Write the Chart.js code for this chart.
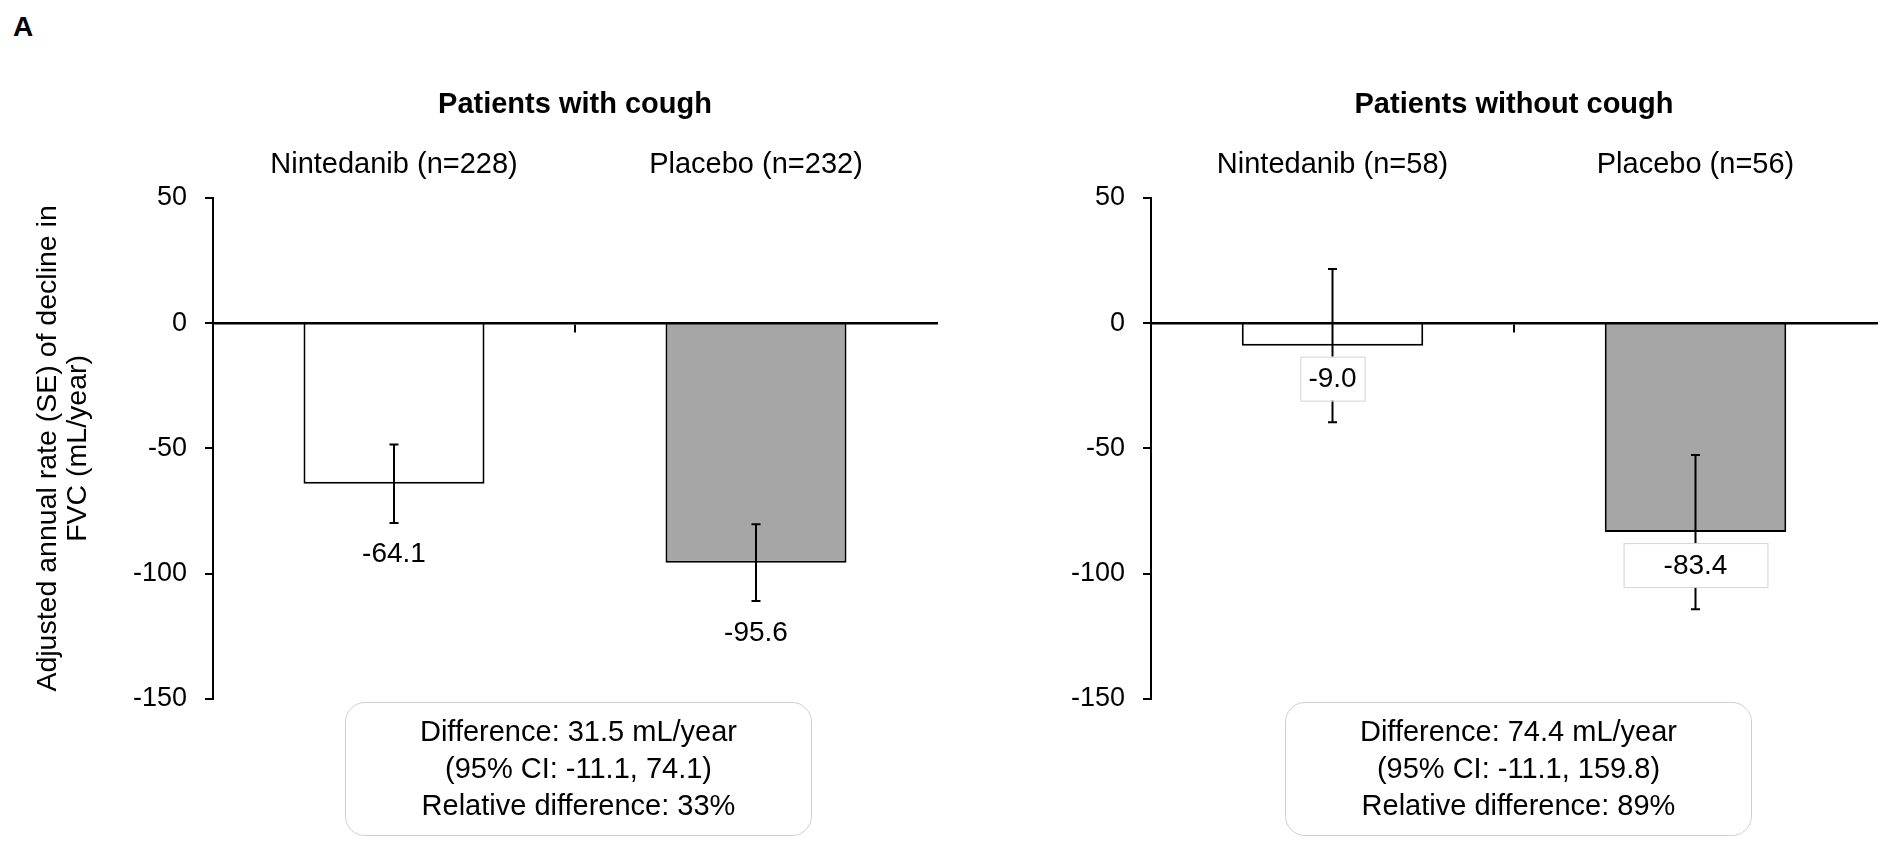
<!DOCTYPE html>
<html>
<head>
<meta charset="utf-8">
<script src="https://cdn.jsdelivr.net/npm/chart.js@4.4.1/dist/chart.umd.min.js"></script>
<style>
  html, body { margin: 0; padding: 0; background: #fff; }
  body { width: 1887px; height: 843px; position: relative; overflow: hidden;
         font-family: "Liberation Sans", Arial, sans-serif; color: #000; }
  .panel { position: absolute; top: 0; height: 843px; }
  #panel-label { position: absolute; left: 13px; top: 13px; font-weight: bold; font-size: 28px; line-height: 28px; }
  .diff { position: absolute; top: 702px; width: 467px; height: 134px; box-sizing: border-box;
          border: 1px solid #cfcfcf; border-radius: 20px; text-align: center;
          font-size: 29px; line-height: 37px; padding-top: 10px; }
</style>
</head>
<body>
<div id="panel-label">A</div>
<div class="panel" style="left:0;width:945px"><canvas id="chart-cough"></canvas></div>
<div class="panel" style="left:945px;width:942px"><canvas id="chart-nocough"></canvas></div>
<div class="diff" id="diff-cough" style="left:345px"></div>
<div class="diff" id="diff-nocough" style="left:1285px"></div>

<script>
// values
var yTicks = [-150, -100, -50, 0, 50];

var coughGroups = ['Nintedanib (n=228)', 'Placebo (n=232)'];
var coughRates = [-64.1, -95.6];
var coughSE = [15.7, 15.3];
var coughDiff = ['Difference: 31.5 mL/year', '(95% CI: -11.1, 74.1)', 'Relative difference: 33%'];

var noCoughGroups = ['Nintedanib (n=58)', 'Placebo (n=56)'];
var noCoughRates = [-9.0, -83.4];
var noCoughSE = [30.6, 30.8];
var noCoughDiff = ['Difference: 74.4 mL/year', '(95% CI: -11.1, 159.8)', 'Relative difference: 89%'];

var yTitle = ['Adjusted annual rate (SE) of decline in', 'FVC (mL/year)'];
var barColors = ['#ffffff', '#a6a6a6'];

var FONT = '"Liberation Sans", Arial, sans-serif';
Chart.defaults.font.family = FONT;
Chart.defaults.color = '#000';

// SE whiskers + value labels under the bars
var errorBars = {
  id: 'errorBars',
  afterDatasetsDraw: function(chart, args, opts) {
    var ctx = chart.ctx;
    var y = chart.scales.y;
    var vals = chart.data.datasets[0].data;
    var bars = chart.getDatasetMeta(0).data;
    ctx.save();
    ctx.strokeStyle = '#000';
    ctx.lineWidth = 2;
    bars.forEach(function(bar, i) {
      var top = y.getPixelForValue(vals[i] + opts.se[i]);
      var bot = y.getPixelForValue(vals[i] - opts.se[i]);
      ctx.beginPath();
      ctx.moveTo(bar.x, top); ctx.lineTo(bar.x, bot);
      ctx.moveTo(bar.x - 4.5, top); ctx.lineTo(bar.x + 4.5, top);
      ctx.moveTo(bar.x - 4.5, bot); ctx.lineTo(bar.x + 4.5, bot);
      ctx.stroke();
    });
    ctx.font = '28px ' + FONT;
    ctx.textAlign = 'center';
    ctx.textBaseline = 'middle';
    bars.forEach(function(bar, i) {
      var txt = vals[i].toFixed(1);
      var ly = bar.y + opts.labelOffset;
      if (opts.boxPad) {
        var w = ctx.measureText(txt).width + 2 * opts.boxPad[i];
        ctx.fillStyle = '#fff';
        ctx.fillRect(bar.x - w / 2, ly - 22, w, 44);
        ctx.strokeStyle = '#d4d4d4';
        ctx.lineWidth = 1;
        ctx.strokeRect(bar.x - w / 2 + 0.5, ly - 21.5, w, 44);
      }
      ctx.fillStyle = '#000';
      ctx.fillText(txt, bar.x, ly + 1);
    });
    ctx.restore();
  }
};

function makeChart(id, cfg) {
  return new Chart(document.getElementById(id), {
    type: 'bar',
    data: {
      labels: cfg.groups,
      datasets: [{
        data: cfg.rates,
        backgroundColor: barColors,
        borderColor: '#000',
        borderWidth: 2,
        barPercentage: 0.5,
        categoryPercentage: 1
      }]
    },
    plugins: [errorBars],
    options: {
      responsive: true,
      maintainAspectRatio: false,
      animation: false,
      layout: { padding: { left: 0, right: cfg.padRight, top: 0, bottom: 144 } },
      plugins: {
        legend: { display: false },
        tooltip: { enabled: false },
        title: {
          display: true,
          text: cfg.title,
          fullSize: false,
          color: '#000',
          font: { size: 29, weight: 'bold' },
          padding: { top: 88, bottom: 0 }
        },
        errorBars: { se: cfg.se, labelOffset: cfg.labelOffset, boxPad: cfg.boxPad }
      },
      scales: {
        x: {
          position: 'top',
          grid: { display: false, drawTicks: false },
          border: { display: false },
          ticks: { color: '#000', font: { size: 29 }, padding: 15, maxRotation: 0 },
          afterFit: function(s) { s.height = 75; }
        },
        x2: {
          type: 'category',
          labels: cfg.groups,
          position: { y: 0 },
          offset: true,
          ticks: { display: false },
          grid: {
            offset: true,
            drawOnChartArea: false,
            tickLength: 8,
            lineWidth: 2,
            z: 1,
            color: function(c) { return c.index === 1 ? '#000' : 'rgba(0,0,0,0)'; }
          },
          border: { color: '#000', width: 2.5, z: 1 }
        },
        y: {
          min: yTicks[0],
          max: yTicks[yTicks.length - 1],
          afterBuildTicks: function(s) { s.ticks = yTicks.map(function(v) { return { value: v }; }); },
          ticks: { color: '#000', font: { size: 27 }, padding: 18 },
          grid: { drawOnChartArea: false, tickLength: 8, color: '#000', lineWidth: 2 },
          border: { color: '#000', width: 2 },
          title: {
            display: !!cfg.yTitle,
            text: cfg.yTitle || '',
            color: '#000',
            font: { size: 28.5, lineHeight: '30px' },
            padding: { top: 33, bottom: 0 }
          },
          afterFit: function(s) { s.width = cfg.axisWidth; }
        }
      }
    }
  });
}

makeChart('chart-cough', {
  groups: coughGroups, rates: coughRates, se: coughSE,
  title: 'Patients with cough', yTitle: yTitle,
  axisWidth: 213, padRight: 8, labelOffset: 70, boxPad: null
});

makeChart('chart-nocough', {
  groups: noCoughGroups, rates: noCoughRates, se: noCoughSE,
  title: 'Patients without cough', yTitle: null,
  axisWidth: 206, padRight: 10, labelOffset: 33, boxPad: [8, 40]
});

document.getElementById('diff-cough').innerHTML = coughDiff.join('<br>');
document.getElementById('diff-nocough').innerHTML = noCoughDiff.join('<br>');
</script>
</body>
</html>
